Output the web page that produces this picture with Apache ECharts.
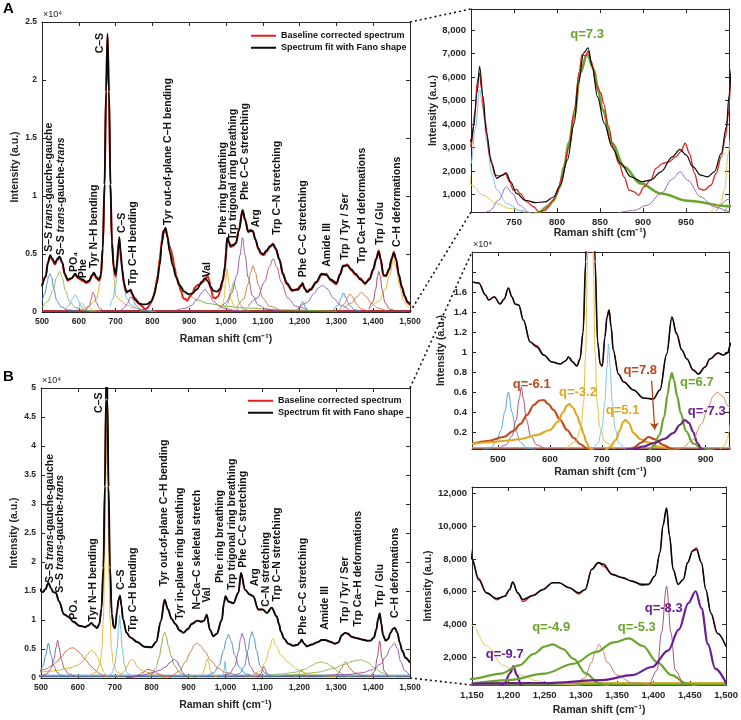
<!DOCTYPE html>
<html><head><meta charset="utf-8">
<script src="https://cdn.jsdelivr.net/npm/echarts@6/dist/echarts.min.js"></script>
<style>html,body{margin:0;padding:0;background:#fff}#c{width:741px;height:720px}</style>
</head><body><div id="c"></div><script>
const FONT = '"Liberation Sans", Arial, Helvetica, sans-serif';
const INK = '#262626';

// ---------------- Panel A spectrum (raw intensity) ----------------
const A_fit = [[500,2200],[510,3000],[516,4200],[522,4900],[528,4600],[535,4200],[542,4600],[548,4800],[555,4300],[562,3300],[570,2800],[580,2900],[590,3300],[598,3000],[610,2800],[620,2600],[628,2700],[636,3200],[641,3400],[648,3000],[655,2800],[660,3200],[665,5500],[670,11000],[674,19000],[678,24000],[682,19000],[686,11000],[690,6000],[695,3800],[700,3250],[703,3890],[707,5320],[710,6460],[714,5170],[718,3600],[724,2320],[730,1680],[736,1820],[741,1920],[746,1540],[753,1040],[763,750],[775,650],[786,680],[796,890],[804,1390],[812,2460],[820,4030],[825,5750],[831,7030],[836,7240],[841,6460],[847,5170],[855,4030],[864,3030],[874,2320],[886,1750],[899,1540],[909,1610],[921,1960],[934,2600],[943,2920],[950,2680],[958,2180],[967,1820],[975,1750],[983,1960],[991,2750],[997,3890],[1000,5200],[1003,6400],[1008,6000],[1012,5700],[1020,5800],[1027,5900],[1035,7000],[1045,8800],[1052,8000],[1060,6900],[1068,7000],[1073,7000],[1080,6200],[1088,5500],[1095,5100],[1102,5000],[1110,5300],[1120,5700],[1128,5800],[1135,5500],[1145,4500],[1155,3300],[1165,2500],[1180,1900],[1195,1900],[1203,2200],[1208,2500],[1213,2100],[1220,1700],[1230,1900],[1245,2600],[1260,3300],[1272,3200],[1285,2800],[1300,2500],[1310,3200],[1318,4000],[1330,4000],[1340,3700],[1352,3300],[1365,2800],[1378,2500],[1390,2800],[1400,3700],[1408,4600],[1415,5200],[1420,4600],[1428,3200],[1435,3100],[1443,3700],[1450,4600],[1456,5100],[1462,4600],[1470,3200],[1478,2100],[1486,1400],[1493,900],[1500,700]];
const A_raw = [[500,2300],[510,3100],[516,4300],[522,4800],[528,4500],[535,4100],[542,4500],[548,4700],[555,4200],[562,3200],[570,2700],[580,2900],[590,3200],[598,2900],[610,2700],[620,2500],[628,2600],[636,3100],[641,3300],[648,2900],[655,2700],[660,3100],[665,5400],[670,11000],[674,19000],[678,23800],[682,19000],[686,11000],[690,6100],[695,3900],[700,3040],[705,4600],[707,5750],[710,6170],[712,5530],[716,4180],[722,2610],[728,1820],[734,1780],[740,1860],[745,1540],[749,1180],[753,1210],[757,1040],[765,680],[773,470],[779,250],[786,320],[794,680],[800,1040],[806,1750],[814,3030],[820,4600],[826,6250],[829,6960],[833,6890],[836,7100],[840,6670],[845,5750],[851,5320],[854,4890],[860,3890],[866,2890],[872,2320],[878,1750],[884,1180],[890,1110],[895,960],[901,1320],[909,1610],[915,2110],[923,2320],[930,2390],[938,2600],[944,2820],[949,3180],[954,2750],[960,1890],[965,1250],[971,1180],[979,1390],[985,1890],[991,2600],[996,3460],[999,4320],[1003,6300],[1008,6100],[1012,5600],[1020,5700],[1027,6000],[1035,7100],[1045,8700],[1052,7900],[1060,7000],[1068,7100],[1073,6900],[1080,6300],[1088,5400],[1095,5000],[1102,4900],[1110,5200],[1120,5600],[1128,5900],[1135,5400],[1145,4600],[1155,3200],[1165,2400],[1180,1800],[1195,2000],[1203,2300],[1208,2400],[1213,2000],[1220,1800],[1230,2000],[1245,2500],[1260,3200],[1272,3300],[1285,2700],[1300,2400],[1310,3300],[1318,3900],[1330,4100],[1340,3600],[1352,3200],[1365,2900],[1378,2400],[1390,2900],[1400,3600],[1408,4500],[1415,5300],[1420,4500],[1428,3100],[1435,3200],[1443,3600],[1450,4500],[1456,5200],[1462,4500],[1470,3100],[1478,2200],[1486,1300],[1493,800],[1500,600]];

// Panel A fitted components
const A_c522 = [[500,900],[508,1600],[514,2500],[518,3100],[522,3300],[526,3000],[532,2000],[540,1000],[552,450],[570,180],[600,60]];
const A_c548 = [[500,400],[515,900],[530,1900],[540,3000],[548,3500],[555,3000],[563,1900],[575,900],[590,400],[620,150],[660,50]];
const A_c590 = [[560,150],[572,500],[582,1100],[590,1500],[597,1100],[606,500],[618,150],[635,40]];
const A_c608 = [[592,100],[600,400],[605,700],[608,800],[611,700],[616,400],[624,100]];
const A_c625 = [[610,80],[618,300],[623,480],[626,500],[630,380],[637,120],[646,30]];
const A_c640 = [[618,100],[628,500],[634,1100],[638,1700],[642,1500],[648,800],[656,300],[668,80]];
const A_c678 = [[630,500],[648,1100],[660,2800],[666,5500],[670,10000],[674,18000],[678,23500],[682,18000],[686,10000],[690,5500],[696,2800],[700,1400],[715,950],[730,600],[745,400],[770,180],[800,60]];
const A_c713 = [[685,500],[692,1100],[700,2300],[705,3800],[710,5450],[714,4700],[718,3300],[724,1900],[730,1200],[742,600],[757,320],[780,120],[810,40]];
const A_c745 = [[712,100],[722,300],[732,750],[741,1320],[748,1050],[756,550],[768,220],[790,70]];
const A_c836 = [[765,0],[777,200],[790,500],[796,750],[803,1300],[808,2180],[814,3200],[820,4320],[827,6170],[835,6960],[843,6320],[848,5400],[853,4600],[864,3180],[878,2180],[897,1470],[921,1040],[952,730],[999,500],[1050,350],[1150,180],[1300,60]];
const A_c945 = [[860,100],[890,320],[905,540],[921,1040],[934,1650],[943,1960],[952,1600],[967,890],[983,470],[1000,280],[1025,130],[1060,50]];
const A_c1003 = [[978,200],[990,600],[995,1200],[999,2700],[1003,3700],[1008,2500],[1014,1000],[1025,300],[1040,100]];
const A_c1020 = [[993,150],[1005,700],[1013,1700],[1021,2600],[1028,1900],[1036,800],[1048,250],[1065,60]];
const A_c1045 = [[985,300],[1000,800],[1015,1600],[1030,3200],[1038,4900],[1045,6400],[1052,4900],[1060,3000],[1072,1400],[1088,600],[1110,250],[1140,80]];
const A_c1072 = [[1030,400],[1048,1100],[1060,2400],[1067,3400],[1073,4000],[1080,3400],[1088,2300],[1100,1200],[1118,500],[1145,180]];
const A_c1128 = [[1060,500],[1085,1200],[1105,2600],[1118,3900],[1128,4600],[1138,3900],[1150,2600],[1168,1200],[1190,500],[1220,180]];
const A_c1208 = [[1193,80],[1201,400],[1205,750],[1208,900],[1211,750],[1215,400],[1223,80]];
const A_c1260 = [[1195,300],[1220,800],[1240,1600],[1252,2100],[1262,2300],[1275,2000],[1292,1200],[1310,600],[1335,200]];
const A_c1320 = [[1292,150],[1305,600],[1313,1200],[1319,1650],[1326,1200],[1335,600],[1348,200],[1365,60]];
const A_c1335 = [[1308,150],[1322,700],[1331,1300],[1337,1550],[1344,1300],[1354,700],[1368,250],[1385,80]];
const A_c1368 = [[1320,300],[1340,750],[1355,1300],[1368,1700],[1380,1350],[1395,750],[1412,350],[1435,120]];
const A_c1415 = [[1388,250],[1400,900],[1407,2000],[1412,3100],[1415,3500],[1419,3100],[1424,2000],[1432,800],[1445,250],[1460,80]];
const A_c1455 = [[1390,300],[1415,900],[1432,1900],[1445,3200],[1455,4500],[1463,3800],[1472,2200],[1482,1000],[1494,450],[1500,300]];
const A_base = [[500,90],[1500,90]];

// ---------------- Panel B spectrum (raw intensity) ----------------
const B_fit = [[450,17000],[463,16900],[476,15700],[482,15200],[493,15500],[504,14800],[512,15300],[520,16400],[527,15500],[533,14800],[540,14700],[549,13200],[562,11000],[575,10500],[588,9700],[604,9000],[620,8800],[630,9100],[636,9500],[644,9000],[652,8600],[658,9300],[664,12000],[669,19000],[673,33000],[676,48000],[678,56000],[680,48000],[683,33000],[687,19000],[692,11000],[697,8800],[701,8600],[706,11500],[710,13500],[714,14200],[718,12500],[722,10200],[732,7800],[742,7000],[761,6200],[780,5400],[799,5300],[812,6200],[825,9800],[835,13500],[844,11800],[854,10200],[864,9300],[876,8200],[886,7800],[899,8500],[908,9300],[924,9900],[934,9700],[942,9900],[949,10900],[958,8300],[967,7200],[976,7600],[990,10000],[996,13000],[1000,14100],[1008,13200],[1021,12900],[1035,14700],[1042,18100],[1053,15200],[1066,14400],[1075,14100],[1089,11800],[1101,11800],[1112,11200],[1125,12100],[1139,10600],[1145,9300],[1150,7990],[1159,6750],[1170,5930],[1184,5580],[1195,5720],[1202,6140],[1206,6590],[1213,5930],[1220,5520],[1234,5770],[1248,6140],[1261,6550],[1270,6550],[1284,6240],[1297,5930],[1306,6140],[1315,7370],[1324,7780],[1331,7680],[1343,7060],[1357,6860],[1370,6650],[1384,6450],[1393,6450],[1402,6960],[1409,8400],[1413,10050],[1418,11120],[1422,9430],[1427,7370],[1434,6450],[1441,6750],[1447,7780],[1454,8500],[1459,8600],[1466,7780],[1472,6140],[1479,4700],[1488,3460],[1500,2640]];
const B_raw = [[450,17000],[463,16900],[476,15700],[482,15200],[493,15550],[504,14800],[512,15300],[520,16400],[527,15500],[533,14800],[540,14700],[549,13200],[562,11000],[575,10650],[588,9700],[604,9000],[620,8800],[630,9100],[636,9500],[644,9000],[652,8600],[658,9300],[664,12000],[669,19000],[673,33000],[676,48000],[678,56000],[680,48000],[683,33000],[687,19000],[692,11000],[697,8800],[701,8600],[706,11500],[710,13500],[714,14200],[718,12500],[722,10200],[732,7800],[742,7050],[761,6200],[780,5400],[799,5300],[812,6200],[825,9800],[835,13500],[844,11950],[854,10200],[864,9300],[876,8200],[886,7800],[899,8500],[908,9300],[924,9900],[934,9700],[942,9900],[949,10900],[958,8300],[967,7200],[976,7600],[990,10000],[996,13000],[1000,14100],[1008,13200],[1021,12900],[1035,14700],[1042,18100],[1053,15200],[1066,14400],[1075,14100],[1089,11800],[1101,11800],[1112,11200],[1125,12100],[1139,10600],[1145,9300],[1150,7990],[1159,6850],[1170,5930],[1184,5500],[1195,5720],[1202,6140],[1206,6590],[1213,5930],[1220,5400],[1234,5770],[1248,6140],[1261,6550],[1270,6550],[1284,6240],[1297,5850],[1306,6140],[1315,7370],[1324,7780],[1331,7550],[1343,7060],[1357,6860],[1370,6650],[1384,6380],[1393,6450],[1402,6960],[1409,8400],[1413,10050],[1418,11120],[1422,9430],[1427,7370],[1434,6450],[1441,6750],[1447,7780],[1454,8500],[1459,8700],[1466,7780],[1472,6140],[1479,4700],[1488,3460],[1500,2640]];

// Panel B fitted components
const B_c520 = [[470,150],[485,400],[497,1000],[506,2200],[513,4000],[520,6000],[527,4000],[534,2200],[543,1000],[555,400],[575,150]];
const B_c545 = [[500,250],[515,700],[527,1600],[535,3200],[541,5300],[545,6500],[549,5300],[555,3200],[563,1600],[575,700],[592,250]];
const B_c590 = [[450,800],[480,1100],[511,1500],[530,2100],[543,2800],[556,3700],[569,4700],[580,5150],[588,5200],[597,4800],[607,4200],[620,3200],[633,2200],[646,1400],[658,800],[672,350],[684,150]];
const B_c635 = [[450,800],[490,1000],[520,1150],[543,1300],[575,1700],[600,2200],[615,3000],[626,4000],[632,4600],[637,4800],[645,4400],[652,3700],[659,2700],[665,1800],[670,1000],[676,400],[684,100]];
const B_c678 = [[630,300],[650,1000],[660,2500],[665,5000],[669,10000],[672,18000],[675,32000],[678,47000],[681,32000],[684,18000],[687,10000],[691,5000],[696,2500],[706,1000],[725,300]];
const B_c713 = [[683,200],[693,900],[700,2300],[706,5000],[710,8500],[713,10800],[716,8500],[720,5000],[726,2300],[733,900],[745,200]];
const B_c745 = [[705,0],[716,500],[727,1200],[735,2200],[741,3000],[746,3200],[752,2900],[761,1900],[774,1300],[787,1000],[810,500],[838,200]];
const B_c790 = [[735,0],[750,150],[762,450],[776,950],[790,1500],[803,1250],[818,700],[835,300],[852,80]];
const B_c835 = [[790,0],[800,600],[811,1700],[820,3500],[827,5800],[831,7200],[835,7900],[839,7200],[845,5600],[852,3900],[862,2100],[876,850],[895,300],[920,100]];
const B_c860 = [[730,50],[760,300],[780,550],[800,900],[820,1300],[838,1900],[850,2700],[860,3200],[868,2900],[876,2000],[884,900],[892,300],[902,50]];
const B_c920 = [[830,100],[855,400],[875,1200],[892,2800],[905,4500],[915,5600],[922,6000],[932,5600],[945,4500],[960,3000],[980,1700],[1000,950],[1040,420],[1090,180]];
const B_c950 = [[928,200],[937,700],[942,1300],[945,2000],[948,2900],[951,3300],[954,2700],[959,1300],[967,400],[980,100]];
const B_c1000 = [[992,100],[996,1200],[999,2900],[1002,1200],[1006,100]];
const B_c1008 = [[950,300],[968,900],[983,2200],[995,4800],[1002,6600],[1008,7500],[1015,6400],[1025,3900],[1038,1800],[1055,700],[1075,250]];
const B_c1045 = [[995,250],[1012,800],[1025,2000],[1035,4500],[1041,6800],[1045,7700],[1050,6800],[1057,4500],[1067,2000],[1080,800],[1100,250]];
const B_c1072 = [[1020,250],[1038,800],[1051,2000],[1061,4800],[1067,7000],[1072,8000],[1077,7000],[1084,4800],[1094,2000],[1108,800],[1128,250]];
const B_c1104 = [[1088,100],[1096,700],[1101,1600],[1104,2000],[1107,1600],[1112,700],[1120,100]];
const B_c1128 = [[1070,300],[1092,1100],[1108,2700],[1119,5000],[1128,6800],[1137,5600],[1150,3950],[1170,2700],[1193,1500],[1216,900],[1240,550],[1265,380],[1300,250]];
const B_c1207 = [[1185,100],[1195,400],[1202,1000],[1207,1440],[1212,900],[1218,250],[1225,100]];
const B_c1261 = [[1100,300],[1150,680],[1190,1000],[1215,1500],[1235,2200],[1250,2650],[1261,2780],[1275,2500],[1290,1900],[1307,1000],[1325,400],[1340,150]];
const B_c1325 = [[1290,200],[1305,700],[1315,1700],[1320,2400],[1325,2780],[1330,2400],[1336,1700],[1350,900],[1370,450],[1400,200]];
const B_c1366 = [[1150,380],[1200,600],[1250,1000],[1290,1600],[1320,2300],[1345,2900],[1366,3150],[1385,2700],[1405,1700],[1425,900],[1445,400],[1461,200]];
const B_c1418 = [[1395,300],[1405,1200],[1411,3500],[1418,6340],[1424,3500],[1430,1200],[1440,300]];
const B_c1458 = [[1150,380],[1250,420],[1330,600],[1370,900],[1398,1400],[1420,2400],[1435,3700],[1448,5300],[1458,6030],[1466,5000],[1475,2800],[1485,1300],[1500,400]];
const B_base1 = [[450,420],[1500,420]];
const B_base2 = [[450,330],[1500,330]];

// ---------------- Tick values ----------------
const TR_X_TICKS = [750,800,850,900,950];
const TR_Y_TICKS = [1000,2000,3000,4000,5000,6000,7000,8000];
const MID_X_TICKS = [500,600,700,800,900];
const MID_Y_LABELS = [2000,4000,6000,8000,10000,12000,14000,16000];
const MID_Y_TICKS = [2000,4000,6000,8000,10000,12000,14000,16000,18000];
const BR_Y_TICKS = [2000,4000,6000,8000,10000,12000];

// ---------------- Annotations ----------------
const ANN_A = [['S–S trans-gauche-gauche',520,5200],['S–S trans-gauche-trans',552,4900],['PO₄',587,3450],['Phe',612,2900],['Tyr N–H bending',641,3800],['C–S',657,22300],['C–S',717,6800],['Trp C–H bending',748,2300],['Tyr out-of-plane C–H bending',843,7500],['Val',948,3000],['Phe ring breathing',993,6650],['Trp trigonal ring breathing',1020,6200],['Phe C–C stretching',1052,9650],['Arg',1082,7300],['Trp C–N stretching',1139,6650],['Phe C–C stretching',1210,3000],['Amide III',1274,3900],['Trp / Tyr / Ser',1325,4500],['Trp Ca–H deformations',1369,4200],['Trp / Glu',1418,5800],['C–H deformations',1464,5600]];
const ANN_B = [['S–S trans-gauche-gauche',524,16400],['S–S trans-gauche-trans',551,14700],['PO₄',589,10050],['Tyr N–H bending',642,9750],['C–S',657,45700],['C–S',716,15200],['Trp C–H bending',750,8000],['Tyr out-of-plane C–H bending',833,15800],['Tyr in-plane ring breathing',877,10050],['N–Ca–C skeletal stretch',922,11800],['Val',950,13000],['Phe ring breathing',985,16400],['Trp trigonal ring breathing',1017,15200],['Phe C–C stretching',1048,19000],['Arg',1080,15800],['C–N stretching',1110,12300],['Trp C–N stretching',1139,13200],['Phe C–C stretching',1209,7450],['Amide III',1270,8300],['Trp / Tyr / Ser',1324,9500],['Trp Ca–H deformations',1360,8900],['Trp / Glu',1419,12300],['C–H deformations',1459,10350]];
const Q_TR = [['q=7.3',835,7800]];
const Q_MID = [['q=-6.1',565,6800],['q=-3.2',654,6000],['q=7.8',774,8200],['q=5.1',740,4200],['q=6.7',883,6950],['q=-7.3',902,4100]];
const Q_BR = [['q=-9.7',1195,2160],['q=-4.9',1259,3790],['q=-5.3',1377,3790],['q=-8.3',1414,5000]];
const ARROW_MID = [[796,7130],[802,2230]];

// ---------------- Styles ----------------
const A_COMPS = [A_c522,A_c548,A_c590,A_c608,A_c625,A_c640,A_c678,A_c713,A_c745,A_c836,A_c945,A_c1003,A_c1020,A_c1045,A_c1072,A_c1128,A_c1208,A_c1260,A_c1320,A_c1335,A_c1368,A_c1415,A_c1455];
const A_COLORS = ['#3C7FC4','#8DB04C','#6FB8E3','#6FB8E3','#E0B030','#A0467A','#E0A818','#4DBEEE','#8E5BB0','#77AC30','#8E5BB0','#E0B830','#8DB04C','#8E4FA8','#C8702A','#A0508A','#3C7FC4','#8E5BB0','#3C8FD4','#D07030','#C87A40','#A2345A','#E0B020'];
const A_TR_COLORS = ['#3C7FC4','#8DB04C','#6FB8E3','#6FB8E3','#E0B030','#A0467A','#E6C050','#7CC4EC','#9A6CB8','#6BA52C','#9A6CB8','#E6C050','#8DB04C','#9A6CB8','#C8702A','#A0508A','#3C7FC4','#8E5BB0','#3C8FD4','#D07030','#C87A40','#A2345A','#E0B020'];
const A_TR_WIDTHS = [1,1,1,1,1,1,1,1,1,2.6,1,1,1,1,1,1,1,1,1,1,1,1,1];
const B_COMPS = [B_c520,B_c545,B_c590,B_c635,B_c678,B_c713,B_c745,B_c790,B_c835,B_c860,B_c920,B_c950,B_c1000,B_c1008,B_c1045,B_c1072,B_c1104,B_c1128,B_c1207,B_c1261,B_c1325,B_c1366,B_c1418,B_c1458];
const B_COLORS = ['#2F7FC1','#A2426A','#C8602A','#D9A82A','#E3B022','#5BB5E5','#D9A82A','#B0502A','#77AC30','#7E3F9E','#C8703A','#D9B030','#5BB5E5','#3A86C8','#8E4FA8','#3A86C8','#A2426A','#E0B830','#9AAF40','#8DB04C','#C0603A','#8DB04C','#A2345A','#8E4FA8'];
const B_ZOOM_COLORS = ['#5BA8DC','#A8557A','#C24A1C','#E0A820','#E6BE3A','#7CC4EC','#E0A820','#B8461C','#6BA52C','#6A2090','#D08A5A','#E0C040','#5BB5E5','#3A86C8','#8E4FA8','#3A86C8','#A2426A','#E6C860','#6A1E96','#6BA52C','#C08060','#6BA52C','#A0507A','#6A1E96'];
const B_ZOOM_WIDTHS = [1,1,2.2,2.2,1,1,2.2,2.2,2.2,2.2,1,1,1,1,1,1,1,1,2.2,2.2,1,2.2,1,2.2];

const RED = '#E0201B', BLACK = '#0A0A0A';
const NAME_RAW = 'Baseline corrected spectrum', NAME_FIT = 'Spectrum fit with Fano shape';

// ---------------- Build ----------------
const chart = echarts.init(document.getElementById('c'));
const fmtComma = v => Math.round(v).toLocaleString('en-US');
const fmt1e4 = v => String(+(v/1e4).toFixed(1));

const grids = [
  {left:42, top:22, width:368, height:290},
  {left:41, top:388, width:369, height:290},
  {left:471, top:9, width:258, height:203},
  {left:472, top:252, width:257, height:197},
  {left:472, top:487, width:256, height:198}
];
const XC = [
  {min:500,max:1500,interval:100,fmt:fmtComma,fs:8.5,name:'Raman shift (cm⁻¹)',gap:22},
  {min:500,max:1500,interval:100,fmt:fmtComma,fs:8.5,name:'Raman shift (cm⁻¹)',gap:22},
  {min:700,max:1000,labels:TR_X_TICKS,fmt:fmtComma,fs:9.5,name:'Raman shift (cm⁻¹)',gap:15},
  {min:450,max:945,labels:MID_X_TICKS,fmt:fmtComma,fs:9.5,name:'Raman shift (cm⁻¹)',gap:18},
  {min:1150,max:1500,interval:50,fmt:fmtComma,fs:9.5,name:'Raman shift (cm⁻¹)',gap:20}
];
const YC = [
  {min:0,max:25000,interval:5000,fmt:fmt1e4,fs:8.5,gap:21},
  {min:0,max:50000,interval:5000,fmt:fmt1e4,fs:8.5,gap:21},
  {min:250,max:8900,labels:TR_Y_TICKS,fmt:fmtComma,fs:9.5,gap:31},
  {min:300,max:20000,labels:MID_Y_LABELS,ticks:MID_Y_TICKS,fmt:fmt1e4,fs:9.5,gap:25},
  {min:300,max:12400,labels:BR_Y_TICKS,fmt:fmtComma,fs:9.5,gap:32}
];
function mkAxis(g, c, position, main) {
  const a = {
    type:'value', gridIndex:g, position, min:c.min, max:c.max,
    splitLine:{show:false},
    axisLine:{show:true, onZero:false, lineStyle:{color:INK, width:1}},
    axisTick:{show:true, inside:true, length:4, lineStyle:{color:INK, width:1}},
    axisLabel:{show:main, color:INK, fontSize:c.fs, fontWeight:'bold', fontFamily:FONT, margin:5, formatter:c.fmt, showMinLabel:true, showMaxLabel:true, hideOverlap:false}
  };
  if (c.interval) a.interval = c.interval;
  if (c.labels) { a.axisLabel.customValues = c.labels; a.axisTick.customValues = c.ticks || c.labels; }
  return a;
}
const xAxis = [], yAxis = [];
for (let g = 0; g < 5; g++) {
  const xb = mkAxis(g, XC[g], 'bottom', true);
  xb.name = XC[g].name; xb.nameLocation = 'middle'; xb.nameGap = XC[g].gap;
  xb.nameTextStyle = {fontSize:10.5, fontWeight:'bold', fontFamily:FONT, color:INK};
  xAxis.push(xb, mkAxis(g, XC[g], 'top', false));
  const yl = mkAxis(g, YC[g], 'left', true);
  yl.name = 'Intensity (a.u.)'; yl.nameLocation = 'middle'; yl.nameGap = YC[g].gap; yl.nameRotate = 90;
  yl.nameTextStyle = {fontSize:10.5, fontWeight:'bold', fontFamily:FONT, color:INK};
  yAxis.push(yl, mkAxis(g, YC[g], 'right', false));
}

const series = [];
function line(data, g, color, width, z, name) {
  const s = {type:'line', xAxisIndex:2*g, yAxisIndex:2*g, data, symbol:'none', showSymbol:false,
    smooth:0.35, smoothMonotone:'x', clip:true, silent:true, animation:false, z,
    lineStyle:{color, width}, itemStyle:{color}, emphasis:{disabled:true}};
  if (name) s.name = name;
  series.push(s);
  return s;
}
function comps(list, colors, widths, g, xmin, xmax) {
  list.forEach((d, i) => {
    if (d[d.length-1][0] < xmin || d[0][0] > xmax) return;
    line(d, g, colors[i], widths ? widths[i] : 0.9, 2);
  });
}
// Panel A
line(A_base, 0, '#B0303A', 2, 1);
comps(A_COMPS, A_COLORS, null, 0, 500, 1500);
line(A_raw, 0, RED, 2, 3, NAME_RAW);
line(A_fit, 0, BLACK, 1.8, 4, NAME_FIT);
// Panel B
line(B_base2, 1, '#2A5FB0', 2.5, 1);
line(B_base1, 1, '#C8A030', 1.2, 1);
comps(B_COMPS, B_COLORS, null, 1, 500, 1500);
line(B_raw, 1, RED, 1.4, 3, NAME_RAW);
line(B_fit, 1, BLACK, 1.9, 4, NAME_FIT);
// Top-right zoom of A
comps(A_COMPS, A_TR_COLORS, A_TR_WIDTHS, 2, 700, 1000);
line(A_raw, 2, RED, 1.3, 3, NAME_RAW);
line(A_fit, 2, BLACK, 1.2, 4, NAME_FIT);
// Middle zoom of B
line(B_base2, 3, '#6A2090', 1.5, 1);
line(B_base1, 3, '#E0A820', 1.5, 1);
comps(B_COMPS, B_ZOOM_COLORS, B_ZOOM_WIDTHS, 3, 450, 945);
const q78 = series.find(s => s.data === B_c790 && s.xAxisIndex === 6);
if (q78) q78.markLine = {silent:true, symbol:['none','arrow'], symbolSize:7, animation:false,
  lineStyle:{color:'#B5451B', width:1.3, type:'solid'}, label:{show:false},
  data:[[{coord:ARROW_MID[0]},{coord:ARROW_MID[1]}]]};
line(B_raw, 3, RED, 1.1, 3, NAME_RAW);
line(B_fit, 3, BLACK, 1.6, 4, NAME_FIT);
// Bottom-right zoom of B
line(B_base1, 4, '#D8B040', 2, 1);
line(B_base2, 4, '#6BA52C', 2, 1);
comps(B_COMPS, B_ZOOM_COLORS, B_ZOOM_WIDTHS, 4, 1150, 1500);
line(B_raw, 4, RED, 1.1, 3, NAME_RAW);
line(B_fit, 4, BLACK, 1.6, 4, NAME_FIT);

const legendBase = {orient:'vertical', icon:'rect', itemWidth:25, itemHeight:2, itemGap:2.5, padding:0,
  selectedMode:false, data:[NAME_RAW, NAME_FIT],
  textStyle:{fontSize:9, fontWeight:'bold', fontFamily:FONT, color:'#111', lineHeight:9.5}};

chart.setOption({
  animation:false,
  textStyle:{fontFamily:FONT},
  grid:grids.map(g => Object.assign({containLabel:false}, g)),
  xAxis, yAxis, series,
  legend:[Object.assign({left:251, top:31}, legendBase), Object.assign({left:248, top:396}, legendBase)]
});

// ---------------- Overlay text (anchored to data) ----------------
const px = (g, v) => chart.convertToPixel({xAxisIndex:2*g, yAxisIndex:2*g}, v);
const graphic = [];
const richStyles = {
  b:{fontSize:10.5, fontWeight:'bold', fontFamily:FONT, fill:'#111'},
  i:{fontSize:10.5, fontWeight:'bold', fontStyle:'italic', fontFamily:FONT, fill:'#111'}
};
function annText(t) {
  return t.split(/(trans)/).filter(p => p).map(p => p === 'trans' ? '{i|' + p + '}' : '{b|' + p + '}').join('');
}
function addAnn(list, g) {
  list.forEach(([t, x, y]) => {
    const p = px(g, [x, y]);
    graphic.push({type:'text', x:p[0], y:p[1], rotation:Math.PI/2, silent:true, z:10,
      style:{text:annText(t), rich:richStyles, align:'left', verticalAlign:'middle', fill:'#111'}});
  });
}
addAnn(ANN_A, 0);
addAnn(ANN_B, 1);
function addQ(list, g, colors) {
  list.forEach(([t, x, y], i) => {
    const p = px(g, [x, y]);
    graphic.push({type:'text', x:p[0], y:p[1], silent:true, z:10,
      style:{text:t, font:'bold 13px ' + FONT, fill:colors[i], align:'center', verticalAlign:'middle'}});
  });
}
addQ(Q_TR, 2, ['#6BA52C']);
addQ(Q_MID, 3, ['#C24A1C','#E0A820','#B8461C','#E0A820','#6BA52C','#6A2090']);
addQ(Q_BR, 4, ['#6A1E96','#6BA52C','#6BA52C','#6A1E96']);
// x10^4 exponent labels
[[0, XC[0].min, YC[0].max],[1, XC[1].min, YC[1].max],[3, XC[3].min, YC[3].max]].forEach(([g, x, y]) => {
  const p = px(g, [x, y]);
  graphic.push({type:'text', x:p[0] + 1, y:p[1] - 7, silent:true,
    style:{text:'×10⁴', font:'9px ' + FONT, fill:INK, align:'left', verticalAlign:'middle'}});
});
// panel letters
graphic.push({type:'text', left:3, top:1, silent:true, style:{text:'A', font:'bold 15px ' + FONT, fill:'#000'}});
graphic.push({type:'text', left:3, top:369, silent:true, style:{text:'B', font:'bold 15px ' + FONT, fill:'#000'}});
// dotted connectors between source plots and zooms
const conn = [
  [px(0, [XC[0].max, YC[0].max]), px(2, [XC[2].min, YC[2].max])],
  [px(0, [XC[0].max, YC[0].min]), px(2, [XC[2].min, YC[2].min])],
  [px(1, [XC[1].max, YC[1].max]), px(3, [XC[3].min, YC[3].max])],
  [px(1, [XC[1].max, YC[1].min]), px(4, [XC[4].min, YC[4].min])]
];
conn.forEach(([a, b]) => graphic.push({type:'line', silent:true, z:0,
  shape:{x1:a[0], y1:a[1], x2:b[0], y2:b[1]},
  style:{stroke:'#111', lineWidth:1.6, lineDash:[2,3]}}));

chart.setOption({graphic});
</script></body></html>
